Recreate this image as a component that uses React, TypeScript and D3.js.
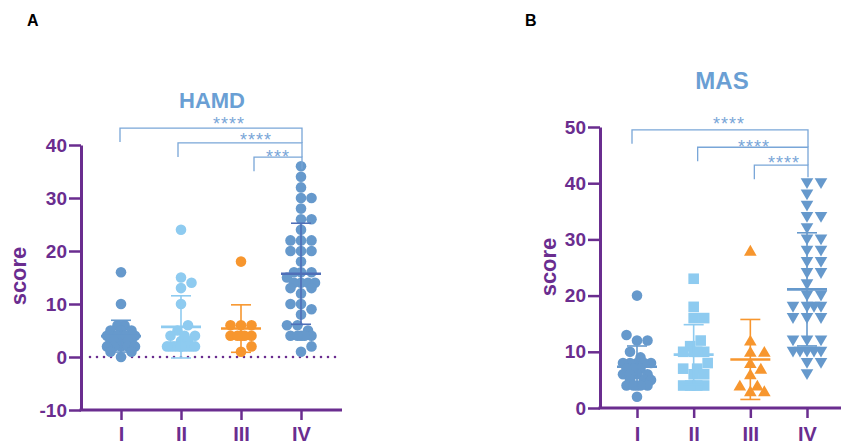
import React, { useEffect, useRef } from 'react';
import * as d3 from 'd3';

const groups = ["I", "II", "III", "IV"];

// HAMD scores per group (panel A)
const hamdI = [16, 10, 6, 6, 5, 5, 5, 4, 4, 4, 4, 4, 4, 4, 3, 3, 3, 3, 3, 3, 3, 2, 2, 2, 2, 2, 1, 1, 0];
const hamdII = [24, 15, 14, 13, 10, 6, 5, 4, 4, 4, 3, 3, 2, 2, 2, 2, 2, 2, 2, 2, 2, 2];
const hamdIII = [18, 6, 6, 6, 4, 4, 4, 4, 4, 2, 1];
const hamdIV = [36, 34, 32, 30, 30, 28, 26, 26, 24, 22, 22, 22, 20, 20, 20, 18, 16, 16, 16, 15, 14, 14, 14, 14,
  13, 13, 12, 10, 10, 9, 8, 6, 6, 5, 4, 4, 4, 4, 4, 2, 1];

// MAS scores per group (panel B)
const masI = [20, 13, 12, 12, 10, 9, 8, 8, 8, 8, 8, 7, 7, 7, 6, 6, 6, 6, 5, 5, 5, 4, 4, 4, 4, 4, 2];
const masII = [23, 18, 16, 16, 12, 11, 10, 10, 10, 10, 8, 7, 7, 6, 6, 4, 4, 4, 4, 4];
const masIII = [28, 12, 10, 10, 8, 7, 6, 4, 4, 3, 3];
const masIV = [40, 40, 38, 36, 34, 34, 32, 30, 30, 28, 28, 26, 26, 24, 24, 22, 20, 20, 18, 18, 18, 18,
  16, 16, 16, 12, 12, 12, 10, 10, 10, 10, 10, 8, 8, 6];

const hamdTicks = [-10, 0, 10, 20, 30, 40];
const masTicks = [0, 10, 20, 30, 40, 50];

// significance brackets
const hamdSig = [
  { from: "I", to: "IV", value: 43.2, label: "****" },
  { from: "II", to: "IV", value: 40.4, label: "****" },
  { from: "III", to: "IV", value: 37.7, label: "***" },
];
const masSig = [
  { from: "I", to: "IV", value: 49.5, label: "****" },
  { from: "II", to: "IV", value: 46.4, label: "****" },
  { from: "III", to: "IV", value: 43.2, label: "****" },
];

const blue = "#6699cc";
const lightBlue = "#8ecbf0";
const orange = "#f7962e";
const purple = "#6a2d8f";
const annot = "#79a6d8";
const font = "'Liberation Sans', Arial, sans-serif";

// beeswarm squeezed into +-maxOff: take the first free slot, else the least crowded one
function swarm(values, cx, y, minDist, maxOff) {
  const placed = [];
  const order = d3.range(values.length).sort((a, b) => values[a] - values[b]);
  const offs = [0];
  for (let k = 1; k * 3.5 <= maxOff + 0.01; k++) offs.push(k * 3.5, -k * 3.5);
  const out = new Array(values.length);
  for (const i of order) {
    const py = y(values[i]);
    let best = cx, bestD = -1;
    for (const o of offs) {
      const px = cx + o;
      const d = placed.length ? d3.min(placed, p => Math.hypot(p.x - px, p.y - py)) : Infinity;
      if (d >= minDist) { best = px; bestD = d; break; }
      if (d > bestD + 0.5) { bestD = d; best = px; }
    }
    placed.push({ x: best, y: py });
    out[i] = { x: best, y: py };
  }
  return out;
}

function marker(g, shape, p, color) {
  if (shape === "circle") {
    g.append("circle").attr("cx", p.x).attr("cy", p.y).attr("r", 5.3).attr("fill", color);
  } else if (shape === "square") {
    g.append("rect").attr("x", p.x - 5.3).attr("y", p.y - 5.3).attr("width", 10.6).attr("height", 10.6).attr("fill", color);
  } else if (shape === "up") {
    g.append("path").attr("d", `M${p.x - 6.3},${p.y + 5}L${p.x + 6.3},${p.y + 5}L${p.x},${p.y - 5.8}Z`).attr("fill", color);
  } else {
    g.append("path").attr("d", `M${p.x - 6.3},${p.y - 5}L${p.x + 6.3},${p.y - 5}L${p.x},${p.y + 5.8}Z`).attr("fill", color);
  }
}

function drawPanel(svg, cfg) {
  const g = svg.append("g");
  const y = d3.scaleLinear().domain(cfg.domain).range(cfg.yRange);
  const x = d3.scalePoint().domain(groups).range(cfg.xRange);

  g.append("text").attr("x", cfg.letterX).attr("y", 26).text(cfg.letter)
    .attr("font-family", font).attr("font-weight", "bold").attr("font-size", 16).attr("fill", "#000");

  g.append("text").attr("x", cfg.titleX).attr("y", cfg.titleY).attr("text-anchor", "middle").text(cfg.title)
    .attr("font-family", font).attr("font-weight", "bold").attr("font-size", cfg.titleSize).attr("fill", "#6a9fd4");

  g.append("text").attr("transform", `translate(${cfg.labelX},${cfg.labelY}) rotate(-90)`)
    .attr("text-anchor", "middle").text("score")
    .attr("font-family", font).attr("font-weight", "bold").attr("font-size", 22).attr("fill", purple);

  // y axis
  const ya = g.append("g").attr("transform", `translate(${cfg.axisX},0)`)
    .call(d3.axisLeft(y).tickValues(cfg.ticks).tickFormat(d => String(d))
      .tickSize(12).tickSizeOuter(0).tickPadding(2));
  ya.select(".domain").attr("stroke", purple).attr("stroke-width", 3);
  ya.selectAll(".tick line").attr("stroke", purple).attr("stroke-width", 2.5);
  ya.selectAll(".tick text").attr("fill", purple).attr("font-family", font)
    .attr("font-weight", "bold").attr("font-size", 19);

  // x axis
  const baseY = y(cfg.domain[0]);
  g.append("line").attr("x1", cfg.axisX - 1.5).attr("x2", cfg.xEnd).attr("y1", baseY).attr("y2", baseY)
    .attr("stroke", purple).attr("stroke-width", 3);
  const xa = g.append("g").attr("transform", `translate(0,${baseY})`)
    .call(d3.axisBottom(x).tickSize(10).tickSizeOuter(0).tickPadding(cfg.xPad));
  xa.select(".domain").remove();
  xa.selectAll(".tick line").attr("stroke", purple).attr("stroke-width", 2.5);
  xa.selectAll(".tick text").attr("fill", purple).attr("font-family", font)
    .attr("font-weight", "bold").attr("font-size", 20);

  if (cfg.zeroLine) {
    g.append("line").attr("x1", cfg.axisX + 9).attr("x2", cfg.xEnd).attr("y1", y(0)).attr("y2", y(0))
      .attr("stroke", purple).attr("stroke-width", 2.6).attr("stroke-linecap", "round")
      .attr("stroke-dasharray", "0 7");
  }

  // points
  cfg.series.forEach((vals, i) => {
    const cx = x(groups[i]);
    const pts = swarm(vals, cx, y, cfg.minDist[i], 14);
    const pg = g.append("g");
    pts.forEach(p => marker(pg, cfg.shapes[i], p, cfg.colors[i]));
  });

  // mean and SD
  cfg.series.forEach((vals, i) => {
    const cx = x(groups[i]);
    const m = d3.mean(vals);
    const sd = d3.deviation(vals);
    const c = cfg.barColors[i];
    const eg = g.append("g").attr("stroke", c).attr("fill", "none");
    eg.append("line").attr("x1", cx).attr("x2", cx).attr("y1", y(m - sd)).attr("y2", y(m + sd)).attr("stroke-width", 1.6);
    [m - sd, m + sd].forEach(v => {
      eg.append("line").attr("x1", cx - 10).attr("x2", cx + 10).attr("y1", y(v)).attr("y2", y(v)).attr("stroke-width", 1.6);
    });
    eg.append("line").attr("x1", cx - 20).attr("x2", cx + 20).attr("y1", y(m)).attr("y2", y(m)).attr("stroke-width", 2.6);
  });

  // brackets
  cfg.sig.forEach((s, j) => {
    const x1 = x(s.from) + cfg.bracketDx[j];
    const x2 = x(s.to) + 1;
    const by = y(s.value);
    const bottomR = j < cfg.sig.length - 1 ? y(cfg.sig[j + 1].value) : by + 12;
    g.append("path")
      .attr("d", `M${x1},${by + 14}V${by}H${x2}V${bottomR}`)
      .attr("fill", "none").attr("stroke", annot).attr("stroke-width", 1.3);
    g.append("text").attr("x", cfg.starX[j]).attr("y", by + cfg.starDy[j]).attr("text-anchor", "middle")
      .text(s.label).attr("font-family", font).attr("font-size", 18).attr("letter-spacing", 1)
      .attr("fill", annot);
  });
}

function App() {
  const ref = useRef();

  useEffect(() => {
    const svg = d3.select(ref.current);
    svg.selectAll("*").remove();

    drawPanel(svg, {
      letter: "A", letterX: 27,
      title: "HAMD", titleX: 212, titleY: 108, titleSize: 22,
      labelX: 26, labelY: 276,
      domain: [-10, 40], yRange: [410, 145], ticks: hamdTicks,
      axisX: 81, xRange: [121, 301], xEnd: 342, xPad: 7,
      zeroLine: true,
      series: [hamdI, hamdII, hamdIII, hamdIV],
      shapes: ["circle", "circle", "circle", "circle"],
      colors: [blue, lightBlue, orange, blue],
      barColors: [blue, lightBlue, orange, "#4f6fb8"],
      minDist: [9, 9, 9, 9.5],
      sig: hamdSig,
      bracketDx: [-1, -3, 13],
      starX: [229, 256, 278],
      starDy: [2.4, 3.4, 6.2],
    });

    drawPanel(svg, {
      letter: "B", letterX: 525,
      title: "MAS", titleX: 722, titleY: 89, titleSize: 24,
      labelX: 556, labelY: 267,
      domain: [0, 50], yRange: [408, 127], ticks: masTicks,
      axisX: 600, xRange: [637, 807], xEnd: 841, xPad: 9,
      zeroLine: false,
      series: [masI, masII, masIII, masIV],
      shapes: ["circle", "square", "up", "down"],
      colors: [blue, lightBlue, orange, blue],
      barColors: [blue, lightBlue, orange, blue],
      minDist: [9, 10.5, 11, 11],
      sig: masSig,
      bracketDx: [-5, 4, 4],
      starX: [729, 754, 784],
      starDy: [0.6, 6.2, 4.2],
    });
  }, []);

  return (
    <svg ref={ref} width="841" height="448" style={{ position: "absolute", left: 0, top: 0, background: "#fff" }} />
  );
}

export default App;
